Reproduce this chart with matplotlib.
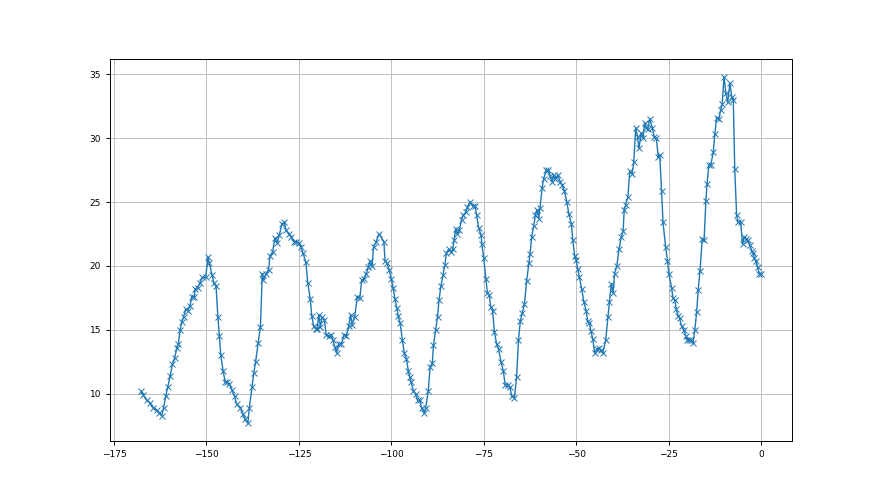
#-*- coding:utf-8 -*-

import matplotlib
matplotlib.use("Agg")
import matplotlib.pyplot as plt

# Valeurs (position, valeur)
x_pos = [
	-167.7, -167.1, -166.2, -165.3, -164.4, -163.5, -162.8, -162.1, -161.6, -161.0,
	-160.5, -159.8, -159.2, -158.6, -158.0, -157.6, -157.1, -156.7, -156.2, -155.6,
	-155.1, -154.4, -154.0, -153.3, -153.1, -152.4, -151.7, -151.1, -150.2, -149.6,
	-149.2, -148.5, -148.0, -147.4, -146.9, -146.5, -146.1, -145.5, -144.9, -144.4,
	-143.8, -143.1, -142.4, -141.8, -140.8, -140.1, -139.5, -138.8, -138.4, -137.7,
	-137.2, -136.7, -136.0, -135.4, -134.9, -134.6, -133.9, -133.2, -132.8, -132.1,
	-131.5, -130.9, -130.3, -129.6, -128.9, -128.5, -127.7, -127.1, -126.4, -125.7,
	-125.0, -124.4, -123.9, -123.1, -122.6, -121.9, -121.5, -121.0, -120.5, -120.1,
	-119.6, -119.2, -118.7, -118.1, -117.6, -116.9, -116.4, -115.8, -115.3, -114.8,
	-114.2, -113.5, -112.8, -112.2, -111.5, -111.0, -110.6, -109.9, -109.2, -108.5,
	-108.0, -107.4, -106.8, -106.2, -105.8, -105.2, -104.8, -104.1, -103.3, -102.0,
	-101.7, -101.1, -100.6, -100.0, -99.5, -99.0, -98.5, -98.1, -97.6, -97.0,
	-96.5, -95.9, -95.4, -95.0, -94.6, -94.0, -93.4, -92.9, -92.3, -91.8,
	-91.1, -90.7, -90.0, -89.5, -88.9, -88.6, -88.0, -87.5, -87.1, -86.6,
	-86.0, -85.5, -85.1, -84.5, -83.9, -83.4, -83.0, -82.6, -82.1, -81.6,
	-81.0, -80.5, -79.8, -79.4, -78.7, -78.0, -77.4, -76.9, -76.4, -75.7,
	-75.5, -75.0, -74.4, -74.0, -73.5, -73.1, -72.6, -72.1, -71.5, -71.0,
	-70.3, -69.7, -69.2, -68.5, -67.9, -67.4, -66.7, -66.1, -65.6, -65.1,
	-64.6, -64.0, -63.4, -62.8, -62.5, -62.0, -61.5, -61.0, -60.6, -60.1,
	-59.8, -59.2, -58.8, -58.1, -57.5, -57.0, -56.5, -56.1, -55.6, -55.0,
	-54.3, -53.8, -53.2, -52.5, -52.0, -51.3, -50.9, -50.4, -50.0, -49.6,
	-49.1, -48.5, -47.9, -47.3, -46.9, -46.4, -46.0, -45.5, -45.0, -44.4,
	-43.9, -43.4, -42.8, -42.0, -41.4, -41.0, -40.5, -40.0, -39.6, -39.0,
	-38.4, -37.8, -37.3, -37.0, -36.6, -36.0, -35.5, -34.9, -34.4, -33.9,
	-33.4, -33.0, -32.4, -31.9, -31.5, -31.0, -30.6, -30.1, -29.4, -28.9,
	-28.3, -27.8, -27.4, -26.9, -26.5, -25.8, -25.3, -24.9, -24.2, -23.8,
	-23.3, -22.9, -22.4, -22.0, -21.5, -20.9, -20.3, -20.0, -19.4, -19.0,
	-18.4, -17.9, -17.4, -17.0, -16.5, -15.9, -15.4, -14.9, -14.6, -14.1,
	-13.6, -12.9, -12.5, -12.0, -11.4, -10.9, -10.5, -10.0, -9.5, -9.0,
	-8.4, -7.9, -7.5, -7.1, -6.6, -6.2, -5.5, -5.0, -4.5, -4.1,
	-3.6, -3.0, -2.5, -2.1, -1.8, -1.4, -0.9, -0.5, 0.0,
]

y_val = [
	10.2, 9.9, 9.5, 9.3, 8.9, 8.7, 8.5, 8.3, 8.9, 9.8,
	10.5, 11.4, 12.3, 12.8, 13.6, 13.9, 15.0, 15.6, 16.0, 16.6,
	16.5, 16.9, 17.6, 17.6, 18.2, 18.3, 18.7, 19.1, 19.1, 20.7,
	20.2, 19.3, 18.7, 18.4, 16.0, 14.5, 13.0, 11.8, 10.9, 10.9,
	10.8, 10.3, 9.8, 9.2, 8.9, 8.4, 8.0, 7.7, 8.9, 10.5,
	11.6, 12.5, 14.0, 15.2, 19.4, 18.9, 19.4, 19.7, 20.8, 21.1,
	22.2, 21.8, 22.4, 23.3, 23.4, 22.8, 22.5, 22.3, 21.9, 21.9,
	21.8, 21.5, 21.0, 20.3, 18.7, 17.4, 16.1, 15.3, 15.1, 15.1,
	16.2, 15.2, 16.0, 15.8, 14.6, 14.5, 14.6, 14.2, 13.7, 13.2,
	13.9, 13.9, 14.6, 14.5, 15.3, 16.2, 15.4, 16.0, 17.6, 17.5,
	18.9, 19.0, 19.4, 19.9, 20.4, 20.0, 21.5, 21.9, 22.5, 21.9,
	20.4, 20.2, 19.7, 19.0, 18.3, 17.4, 16.7, 16.1, 15.5, 14.2,
	13.2, 12.7, 11.8, 11.3, 10.9, 10.2, 10.0, 9.5, 9.5, 8.9,
	8.5, 8.9, 10.2, 12.1, 12.4, 13.8, 15.0, 16.0, 17.3, 18.4,
	19.3, 20.1, 21.0, 21.3, 21.1, 21.3, 22.0, 22.9, 22.5, 22.8,
	23.6, 24.0, 24.2, 24.6, 25.0, 24.7, 24.7, 24.0, 23.0, 22.4,
	21.7, 20.6, 19.0, 17.9, 17.7, 16.8, 16.5, 14.8, 13.9, 13.5,
	12.5, 11.8, 10.7, 10.7, 10.5, 9.8, 9.7, 11.3, 14.2, 15.7,
	16.3, 17.0, 18.8, 20.2, 20.9, 22.3, 23.1, 24.0, 24.4, 23.7,
	24.5, 26.1, 26.8, 27.5, 27.5, 27.0, 26.6, 27.1, 26.8, 27.1,
	26.6, 26.3, 25.9, 25.0, 24.1, 23.3, 22.0, 20.8, 20.5, 19.8,
	19.1, 18.2, 17.2, 16.5, 15.7, 15.5, 14.9, 14.3, 13.2, 13.5,
	13.6, 13.4, 13.2, 14.2, 16.0, 17.2, 18.6, 17.9, 19.4, 20.0,
	21.3, 22.3, 22.7, 24.4, 24.8, 25.4, 27.4, 27.2, 28.1, 30.8,
	30.1, 29.2, 30.4, 30.0, 31.2, 30.8, 30.7, 31.5, 30.8, 30.1,
	30.0, 28.5, 28.7, 25.9, 23.4, 21.5, 20.4, 19.4, 18.3, 17.5,
	17.3, 16.6, 16.1, 15.9, 15.3, 15.0, 14.5, 14.2, 14.2, 14.2,
	14.0, 15.0, 16.4, 18.1, 19.6, 22.1, 22.0, 25.1, 26.4, 27.9,
	27.9, 28.9, 30.3, 31.6, 31.5, 32.2, 32.7, 34.8, 33.5, 32.8,
	34.3, 33.2, 33.0, 27.6, 24.0, 23.4, 23.4, 21.7, 22.3, 22.1,
	22.0, 21.6, 21.2, 21.0, 20.6, 20.4, 19.9, 19.4, 19.4,
]

# Création du graphique
fig, ax = plt.subplots(figsize=(8.8, 4.95), dpi=100)

ax.plot(
	x_pos,
	y_val,
	marker="x",
	markersize=4,
	linewidth=1.0,
	markeredgewidth=0.7,
	color="#1f77b4"
)

# Annotation de la figure
ax.grid(True, color="#c0c0c0", linewidth=0.7)
ax.set_xticks([-175, -150, -125, -100, -75, -50, -25, 0])
ax.set_yticks([10, 15, 20, 25, 30, 35])
ax.tick_params(labelsize=6.5, length=3, width=0.7)
for spine in ax.spines.values():
	spine.set_linewidth(0.7)

fig.savefig("out.png", dpi=100)
